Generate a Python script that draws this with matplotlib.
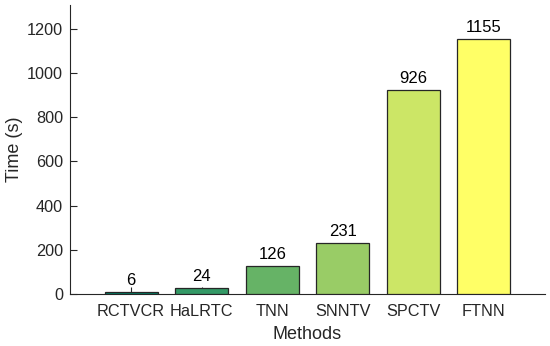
import numpy as np
import matplotlib
matplotlib.use('Agg')
import matplotlib.pyplot as plt

methods = ['RCTVCR', 'HaLRTC', 'TNN', 'SNNTV', 'SPCTV', 'FTNN']
times = [6, 24, 126, 231, 926, 1155]

plt.rcParams['font.family'] = ['Liberation Sans', 'DejaVu Sans']

fig = plt.figure(figsize=(5.5, 3.46), dpi=100)
ax = fig.add_axes([70/550, 1 - 293.7/346, 475/550, 288.7/346])

x = np.arange(1, len(methods) + 1)
colors = plt.get_cmap('summer')(np.linspace(0, 1, len(methods)))
bars = ax.bar(x, times, width=0.75, color=colors, edgecolor='#262626', linewidth=0.9, zorder=3)

for xi, t in zip(x, times):
    ax.text(xi, t + 18, str(t), ha='center', va='bottom', fontsize=12, color='black', zorder=4)

ax.set_xlim(0.135, 6.865)
ax.set_ylim(0, 1310)
ax.set_yticks(np.arange(0, 1201, 200))
ax.set_xticks(x)
ax.set_xticklabels(methods)
ax.set_axisbelow(True)

for s in ['top', 'right']:
    ax.spines[s].set_visible(False)
for s in ['left', 'bottom']:
    ax.spines[s].set_color('#262626')
    ax.spines[s].set_linewidth(0.8)

ax.tick_params(direction='in', length=5, width=0.8, colors='#262626', labelsize=11.7,
               labelcolor='#262626')
ax.tick_params(axis='x', pad=7.5)
ax.tick_params(axis='y', pad=5)
ax.set_xlabel('Methods', fontsize=13, color='#262626', labelpad=5)
ax.set_ylabel('Time (s)', fontsize=13, color='#262626', labelpad=3)

fig.savefig('out.png', dpi=100)
